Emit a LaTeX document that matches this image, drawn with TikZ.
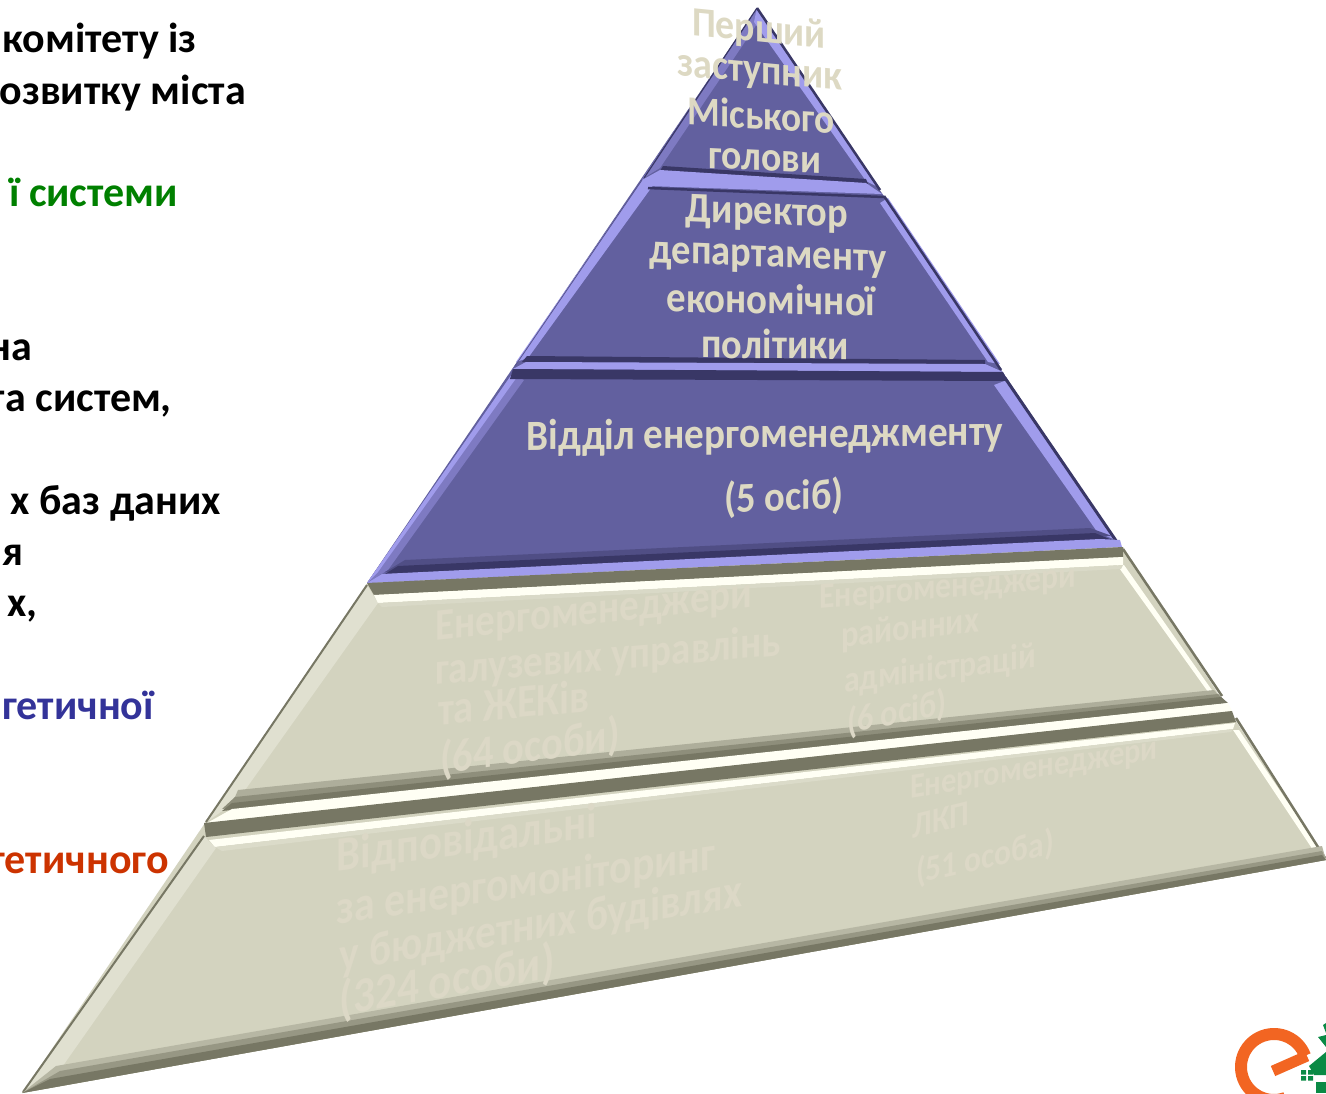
\documentclass[tikz,border=0pt]{standalone}
\usepackage{fontspec}
\usepackage{graphicx}
\setmainfont{Carlito}
\definecolor{pur}{HTML}{62609F}
\definecolor{purL}{HTML}{A09CEC}
\definecolor{purM}{HTML}{7E7AC2}
\definecolor{purD}{HTML}{393766}
\definecolor{gra}{HTML}{D3D3BF}
\definecolor{graL}{HTML}{E0E0D0}
\definecolor{graM}{HTML}{A8A894}
\definecolor{graD}{HTML}{777764}
\definecolor{hi}{HTML}{FFFFF4}
\definecolor{txtA}{HTML}{DDD9C3}
\definecolor{txtB}{HTML}{DCD8C6}
\definecolor{lblue}{HTML}{333399}
\definecolor{lgreen}{HTML}{008000}
\definecolor{lred}{HTML}{CC3300}
\definecolor{logoO}{HTML}{F26522}
\definecolor{logoG}{HTML}{0A8A45}
\newcommand{\warp}[7]{\node[transform shape,inner sep=0pt,cm={1,#4,0,1,(#2,#3)}] (#1) at (0,0) {\scalebox{1}[#6]{\resizebox{#5pt}{!}{\fontsize{30}{36}\selectfont\bfseries #7}}};}
\tikzset{lefttext/.style={anchor=base east,inner sep=0pt,font=\fontsize{42}{46}\selectfont\bfseries}}
\begin{document}
\begin{tikzpicture}[x=1pt,y=-1pt]
\useasboundingbox (0,0) rectangle (1326,1093);
\clip (0,0) rectangle (1326,1093);
% left text
\node[lefttext,text=black] (l1) at (197,52) {комітету із};
\node[lefttext,text=black] (l2) at (246,104) {озвитку міста};
\node[lefttext,text=lgreen] (l3) at (178,206) {ї системи};
\node[lefttext,text=black] (l4) at (32,360) {на};
\node[lefttext,text=black] (l5) at (172,411) {та систем,};
\node[lefttext,text=black] (l6) at (221,514) {х баз даних};
\node[lefttext,text=black] (l7) at (24,565) {ня};
\node[lefttext,text=black] (l8) at (38,616) {х,};
\node[lefttext,text=lblue] (l9) at (154,719) {гетичної};
\node[lefttext,text=lred] (l10) at (169,873) {гетичного};
% body fills
\fill[pur] (757,8) -- (1120,546) -- (367,583) -- cycle;
\fill[gra] (367,584) -- (1123,547) -- (1326,860) -- (22,1093) -- cycle;
% purple bevels, left
\fill[purM] (757,8) -- (757,24) -- (660,168) -- (642,179) -- cycle;
\fill[purL] (642,180) -- (654,184) -- (528,358) -- (516,362) -- cycle;
\fill[purM] (512,374) -- (524,380) -- (388,570) -- (367,583) -- cycle;
\fill[purL] (512,374) -- (517,377) -- (378,572) -- (367,583) -- cycle;
% purple bevels, right
\fill[purL] (757,8) -- (876,186) -- (866,181) -- (754,22) -- cycle;
\fill[purL] (888,198) -- (1000,364) -- (988,362) -- (880,203) -- cycle;
\fill[purL] (1007,380) -- (1116,540) -- (1098,533) -- (994,385) -- cycle;
\draw[purD,line width=2.5pt] (757,8) -- (880,190);
\draw[purD,line width=2.5pt] (884,196) -- (1001,370);
\draw[purD,line width=3pt] (1005,378) -- (1119,545);
\draw[purD,line width=1.2pt] (757,8) -- (644,178);
\draw[purD!70!purL,line width=.8pt] (642,180) -- (515,366);
% band 1
\fill[purD] (663,166) -- (866,179) -- (868,184) -- (660,171) -- cycle;
\fill[purL] (642,180) -- (660,170) -- (866,183) -- (882,194) -- (648,186) -- cycle;
\draw[purD,line width=2.5pt] (648,188) -- (884,197);
% band 2
\fill[purD] (527,356) -- (985,360) -- (985,365) -- (522,362) -- cycle;
\fill[purL] (513,369) -- (526,362) -- (985,364) -- (1003,372) -- cycle;
\fill[purD] (513,369) -- (1003,372) -- (1008,381) -- (510,379) -- cycle;
% band 3
\fill[pur!55!purD] (405,560) -- (1090,528) -- (1112,536) -- (385,572) -- cycle;
\fill[purD] (398,566) -- (1095,533) -- (1112,540) -- (385,574) -- cycle;
\fill[purL] (367,583) -- (382,574) -- (1100,539) -- (1120,540) -- (1122,547) -- cycle;
% gray bevels
\fill[graL] (367,585) -- (378,603) -- (238,800) -- (205,823) -- cycle;
\fill[graL] (204,836) -- (216,848) -- (60,1070) -- (22,1093) -- cycle;
\draw[graD,line width=2pt] (367,585) -- (206,822);
\draw[graD,line width=2pt] (204,836) -- (23,1092);
% right gray bevels
\fill[hi] (1117,565) -- (1124,565) -- (1216,696) -- (1211,696) -- cycle;
\fill[hi] (1233,730) -- (1239,730) -- (1322,853) -- (1315,853) -- cycle;
\draw[graD,line width=2.5pt] (1123,549) -- (1222,696);
\draw[graD,line width=2.5pt] (1236,718) -- (1325,858);
% band 3 on gray
\fill[graD] (367,583) -- (1123,547) -- (1123,557) -- (374,595) -- cycle;
\fill[hi] (374,595) -- (1123,557) -- (1123,565) -- (378,603) -- cycle;
\fill[gra!55!graL] (378,603) -- (1123,565) -- (1121,569) -- (382,607) -- cycle;
% band 4 on gray
\fill[graD!40!gra] (238,790) -- (1214,690) -- (1221,698) -- (232,804) -- cycle;
\fill[graD!75!gra] (235,797) -- (1218,694) -- (1224,700) -- (222,809) -- cycle;
\fill[graD] (232,803) -- (1221,697) -- (1228,703) -- (222,811) -- cycle;
\fill[hi] (207,823) -- (232,809) -- (1228,703) -- (1232,711) -- cycle;
\fill[graD] (204,823) -- (1232,711) -- (1236,722) -- (206,837) -- cycle;
\fill[hi] (209,840) -- (1235,723) -- (1233,729) -- (215,847) -- cycle;
\fill[gra!40!graL] (215,847) -- (1233,729) -- (1231,732) -- (222,851) -- cycle;
% bottom edge
\fill[graD!30!gra] (56,1066) -- (1322,846) -- (1326,860) -- (22,1093) -- cycle;
\fill[graD!65!gra] (60,1071) -- (1322,851) -- (1326,860) -- (22,1093) -- cycle;
\fill[graD] (50,1079) -- (1322,855) -- (1326,860) -- (22,1093) -- cycle;
% purple text
\begin{scope}[text=txtA]
\warp{t1}{759}{31}{-0.10}{134}{1.1}{Перший}
\warp{t2}{760}{76}{-0.09}{165}{1.1}{заступник}
\warp{t3}{761}{115}{-0.06}{147}{1.1}{Міського}
\warp{t4}{765}{161}{-0.05}{113}{1.1}{голови}
\warp{t5}{767}{214}{-0.04}{162}{1.1}{Директор}
\warp{t6}{768}{260}{-0.04}{237}{1.1}{департаменту}
\warp{t7}{771}{299}{-0.02}{209}{1.1}{економічної}
\warp{t8}{775}{344}{-0.01}{147}{1.1}{політики}
\warp{t9}{765}{436}{0.01}{476}{1.1}{Відділ енергоменеджменту}
\warp{t10}{784}{498}{0.04}{119}{1.1}{(5 осіб)}
\end{scope}
% gray text
\begin{scope}[text=txtB]
\warp{g1}{594}{613}{0.107}{317}{1.15}{Енергоменеджери}
\warp{g2}{608}{658}{0.085}{346}{1.15}{галузевих управлінь}
\warp{g3}{514}{702}{0.09}{152}{1.15}{та ЖЕКів}
\warp{g4}{530}{748}{0.14}{180}{1.15}{(64 особи)}
\warp{g5}{948}{589}{0.085}{257}{1.15}{Енергоменеджери}
\warp{g6}{910}{630}{0.11}{138}{1.15}{районних}
\warp{g7}{940}{670}{0.13}{192}{1.15}{адміністрацій}
\warp{g8}{897}{713}{0.2}{100}{1.15}{(6 осіб)}
\warp{g9}{467}{841}{0.13}{260}{1.15}{Відповідальні}
\warp{g10}{526}{884}{0.145}{379}{1.15}{за енергомоніторинг}
\warp{g11}{541}{926}{0.16}{402}{1.15}{у бюджетних будівлях}
\warp{g12}{447}{982}{0.18}{215}{1.15}{(324 особи)}
\warp{g13}{1034}{770}{0.16}{248}{1.15}{Енергоменеджери}
\warp{g14}{941}{820}{0.25}{57}{1.15}{ЛКП}
\warp{g15}{985}{858}{0.22}{138}{1.15}{(51 особа)}
\end{scope}
% logo
\draw[logoO,line width=12pt] (1305,1055.7) arc[start angle=-20,end angle=-290,radius=33];
\draw[logoO,line width=11pt] (1273,1071) -- (1307,1056);
\fill[logoG] (1301,1070) rectangle (1306,1074.5) (1308,1070) rectangle (1313,1074.5)
  (1301,1076) rectangle (1306,1080.5) (1308,1076) rectangle (1313,1080.5);
\fill[logoG] (1326,1052) -- (1309,1066) -- (1314,1075) -- (1326,1075) -- cycle;
\fill[logoG] (1318,1037) -- (1326,1035) -- (1326,1047) -- cycle;
\fill[logoG] (1323,1025) -- (1326,1023) -- (1326,1033) -- cycle;
\fill[logoG] (1316,1082) rectangle (1326,1093);
\end{tikzpicture}
\end{document}
